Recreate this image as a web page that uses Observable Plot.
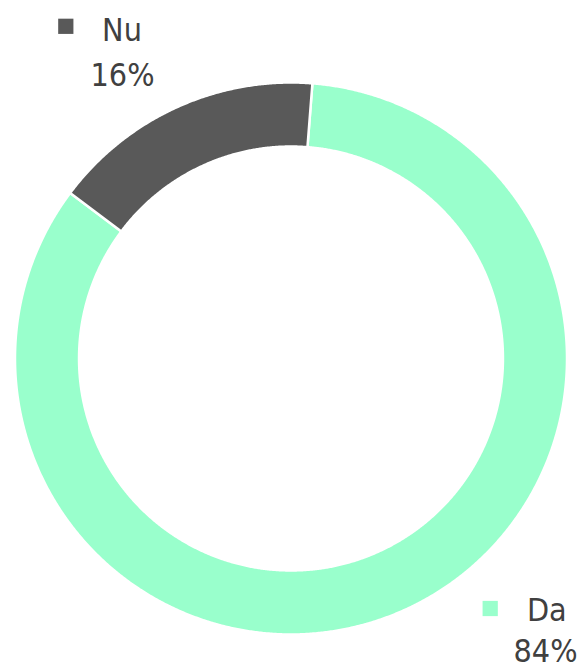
<!DOCTYPE html>
<html>
<head>
<meta charset="utf-8">
<script src="https://cdn.jsdelivr.net/npm/d3@7"></script>
<script src="https://cdn.jsdelivr.net/npm/@observablehq/plot@0.6"></script>
<style>
  html, body { margin: 0; padding: 0; background: #fff; }
  #chart svg { display: block; }
</style>
</head>
<body>
<div id="chart"></div>
<script>
// Data
const categories = ["Da", "Nu"];
const values = [84, 16];
const labelTexts = ["84%", "16%"];
const colors = ["#99FFCC", "#595959"];

const rows = categories.map((name, i) => ({name, value: values[i], label: labelTexts[i]}));

// Donut geometry (unit circle, data-space)
const innerRatio = 0.768;
const rotation = 4.45 * Math.PI / 180;
const pie = d3.pie().sort(null).value(d => d.value).startAngle(rotation).endAngle(rotation + 2 * Math.PI);
const arcs = pie(rows);

const pts = [];
for (const a of arcs) {
  const n = Math.max(8, Math.ceil((a.endAngle - a.startAngle) / 0.005));
  const ring = [];
  for (let k = 0; k <= n; k++) {
    const t = a.startAngle + (a.endAngle - a.startAngle) * k / n;
    ring.push({name: a.data.name, x: Math.sin(t), y: Math.cos(t)});
  }
  for (let k = n; k >= 0; k--) {
    const t = a.startAngle + (a.endAngle - a.startAngle) * k / n;
    ring.push({name: a.data.name, x: innerRatio * Math.sin(t), y: innerRatio * Math.cos(t)});
  }
  ring.push(ring[0]);
  pts.push(...ring);
}

const font = "'DejaVu Sans Condensed', 'DejaVu Sans', sans-serif";
const textColor = "#404040";
const fs = 32;

const nu = rows.filter(d => d.name === "Nu");
const da = rows.filter(d => d.name === "Da");

const chart = Plot.plot({
  width: 581,
  height: 669,
  marginLeft: 14.5,
  marginRight: 14.5,
  marginTop: 82,
  marginBottom: 35,
  x: {domain: [-1, 1], axis: null},
  y: {domain: [-1, 1], axis: null},
  color: {domain: categories, range: colors},
  style: {fontFamily: font, background: "white"},
  marks: [
    Plot.line(pts, {x: "x", y: "y", z: "name", fill: "name", stroke: "white", strokeWidth: 2.5, curve: "linear"}),
    // Nu label (top-left)
    Plot.dot(nu, {frameAnchor: "top-left", dx: 50.8, dy: -56.2, symbol: "square", r: 8.6, fill: "name", stroke: null}),
    Plot.text(nu, {frameAnchor: "top-left", dx: 107, dy: -42, text: "name", textAnchor: "middle", lineAnchor: "bottom", fontSize: fs, fill: textColor}),
    Plot.text(nu, {frameAnchor: "top-left", dx: 107.5, dy: 3, text: "label", textAnchor: "middle", lineAnchor: "bottom", fontSize: fs, fill: textColor}),
    // Da label (bottom-right)
    Plot.dot(da, {frameAnchor: "bottom-right", dx: -76.8, dy: -26, symbol: "square", r: 8.6, fill: "name", stroke: null}),
    Plot.text(da, {frameAnchor: "bottom-right", dx: -20.2, dy: -14, text: "name", textAnchor: "middle", lineAnchor: "bottom", fontSize: fs, fill: textColor}),
    Plot.text(da, {frameAnchor: "bottom-right", dx: -21.5, dy: 27.5, text: "label", textAnchor: "middle", lineAnchor: "bottom", fontSize: fs, fill: textColor})
  ]
});
document.getElementById("chart").append(chart);
</script>
</body>
</html>
